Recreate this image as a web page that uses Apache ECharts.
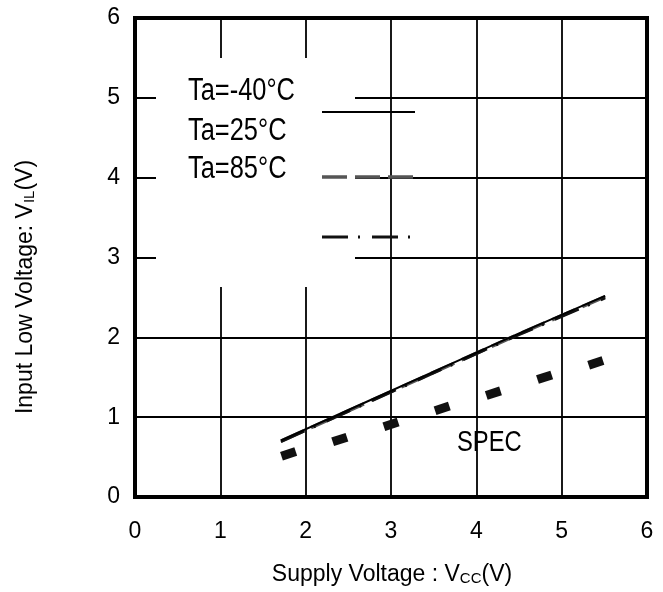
<!DOCTYPE html>
<html>
<head>
<meta charset="utf-8">
<script src="https://cdn.jsdelivr.net/npm/echarts@6/dist/echarts.min.js"></script>
<style>
  html, body { margin: 0; padding: 0; background: #fff; }
  #chart { width: 663px; height: 592px; }
</style>
</head>
<body>
<div id="chart"></div>
<script>
// Input low voltage V_IL versus supply voltage V_CC at three ambient temperatures
const seriesNames = ['Ta=-40°C', 'Ta=25°C', 'Ta=85°C'];

const vccM40 = [1.71, 2.5, 3.5, 4.5, 5.51];
const vilM40 = [0.71, 1.09, 1.57, 2.05, 2.52];

const vcc25 = [1.71, 2.5, 3.5, 4.5, 5.51];
const vil25 = [0.70, 1.08, 1.56, 2.04, 2.51];

const vcc85 = [1.71, 2.5, 3.5, 4.5, 5.51];
const vil85 = [0.69, 1.07, 1.55, 2.03, 2.49];

// Specification limit points
const specVcc = [1.8, 2.4, 3.0, 3.6, 4.2, 4.8, 5.4];
const specVil = [0.54, 0.72, 0.91, 1.11, 1.30, 1.50, 1.68];

const axisTicks = [0, 1, 2, 3, 4, 5, 6];

const FONT = '"Liberation Sans", Arial, Helvetica, sans-serif';

function pairs(xs, ys) { return xs.map((x, i) => [x, ys[i]]); }

const chart = echarts.init(document.getElementById('chart'), null, { renderer: 'canvas' });

const axisCommon = {
  type: 'value',
  min: axisTicks[0],
  max: axisTicks[axisTicks.length - 1],
  interval: 1,
  axisLine: { show: false },
  axisTick: { show: false },
  splitLine: { show: true, lineStyle: { color: '#000', width: 1.8 } },
  axisLabel: { color: '#000', fontSize: 23, fontFamily: FONT }
};

chart.setOption({
  backgroundColor: '#fff',
  animation: false,
  grid: {
    left: 135, right: 16, top: 18, bottom: 95,
    show: true, borderColor: '#000', borderWidth: 4, backgroundColor: 'transparent'
  },
  xAxis: Object.assign({}, axisCommon, {
    axisLabel: Object.assign({}, axisCommon.axisLabel, { margin: 23 })
  }),
  yAxis: Object.assign({}, axisCommon, {
    axisLabel: Object.assign({}, axisCommon.axisLabel, { margin: 15 })
  }),
  series: [
    {
      name: seriesNames[1], type: 'line', data: pairs(vcc25, vil25),
      showSymbol: false, z: 3,
      lineStyle: { color: '#555', width: 3.5, type: [25, 8] }
    },
    {
      name: seriesNames[2], type: 'line', data: pairs(vcc85, vil85),
      showSymbol: false, z: 4,
      lineStyle: { color: '#111', width: 2.4, type: [26, 10, 2, 12] }
    },
    {
      name: seriesNames[0], type: 'line', data: pairs(vccM40, vilM40),
      showSymbol: false, z: 5,
      lineStyle: { color: '#000', width: 2 }
    },
    {
      name: 'SPEC', type: 'scatter', data: pairs(specVcc, specVil), z: 6,
      symbol: 'rect', symbolSize: [15, 9], symbolRotate: 18,
      itemStyle: { color: '#111', opacity: 1 }
    }
  ],
  graphic: [
    // blank panel behind the legend
    { type: 'rect', z: 1, shape: { x: 156, y: 58, width: 199, height: 229 },
      style: { fill: '#fff' } },
    { type: 'text', z: 10, x: 188, y: 91, scaleX: 0.82,
      style: { text: seriesNames[0], font: '31px ' + FONT, fill: '#000', verticalAlign: 'middle' } },
    { type: 'text', z: 10, x: 188, y: 131.5, scaleX: 0.82,
      style: { text: seriesNames[1], font: '31px ' + FONT, fill: '#000', verticalAlign: 'middle' } },
    { type: 'text', z: 10, x: 188, y: 169, scaleX: 0.82,
      style: { text: seriesNames[2], font: '31px ' + FONT, fill: '#000', verticalAlign: 'middle' } },
    // legend line samples
    { type: 'line', z: 10, shape: { x1: 322, y1: 112, x2: 415, y2: 112 },
      style: { stroke: '#000', lineWidth: 1.8 } },
    { type: 'line', z: 10, shape: { x1: 322, y1: 177, x2: 415, y2: 177 },
      style: { stroke: '#555', lineWidth: 3.5, lineDash: [25, 8] } },
    { type: 'line', z: 10, shape: { x1: 322, y1: 237, x2: 415, y2: 237 },
      style: { stroke: '#111', lineWidth: 3, lineDash: [26, 10, 2, 12] } },
    // SPEC label
    { type: 'text', z: 10, x: 457, y: 442.5, scaleX: 0.82,
      style: { text: 'SPEC', font: '29px ' + FONT, fill: '#000', verticalAlign: 'middle' } },
    // axis titles
    { type: 'text', z: 10, x: 392, y: 575,
      style: {
        text: 'Supply Voltage : V{sub|CC}(V)', font: '23px ' + FONT, fill: '#000',
        align: 'center', verticalAlign: 'middle',
        rich: { sub: { fontSize: 15, fontFamily: FONT, fill: '#000', padding: [8, 0, 0, 0] } }
      } },
    { type: 'text', z: 10, x: 26, y: 287, rotation: Math.PI / 2,
      style: {
        text: 'Input Low Voltage: V{sub|IL}(V)', font: '23px ' + FONT, fill: '#000',
        align: 'center', verticalAlign: 'middle',
        rich: { sub: { fontSize: 15, fontFamily: FONT, fill: '#000', padding: [8, 0, 0, 0] } }
      } }
  ]
});
</script>
</body>
</html>
